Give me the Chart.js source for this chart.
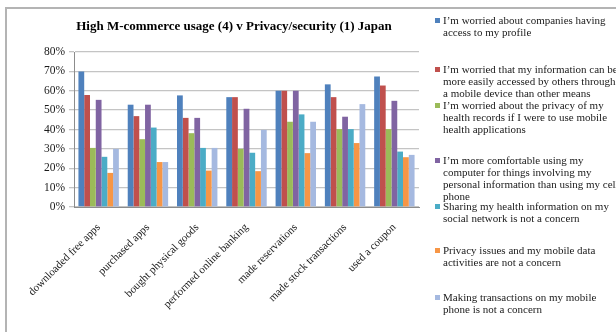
<!DOCTYPE html>
<html>
<head>
<meta charset="utf-8">
<script src="https://cdn.jsdelivr.net/npm/chart.js@4/dist/chart.umd.min.js"></script>
<style>
  html, body { margin: 0; padding: 0; background: #fff; }
  #wrap { position: relative; width: 616px; height: 332px; }
</style>
</head>
<body>
<div id="wrap"><canvas id="c" width="616" height="332"></canvas></div>
<script>
const chartTitle = "High M-commerce usage (4) v Privacy/security (1) Japan";
const categories = ["downloaded free apps", "purchased apps", "bought physical goods", "performed online banking", "made reservations", "made stock transactions", "used a coupon"];
const tickValues = [0, 10, 20, 30, 40, 50, 60, 70, 80];
const seriesNames = [
  "I’m worried about companies having\naccess to my profile",
  "I’m worried that my information can be\nmore easily accessed by others through\na mobile device than other means",
  "I’m worried about the privacy of my\nhealth records if I were to use mobile\nhealth applications",
  "I’m more comfortable using my\ncomputer for things involving my\npersonal information than using my cell\nphone",
  "Sharing my health information on my\nsocial network is not a concern",
  "Privacy issues and my mobile data\nactivities are not a concern",
  "Making transactions on my mobile\nphone is not a concern"
];
const worriedProfile   = [70.0, 52.8, 57.6, 56.7, 60.0, 63.3, 67.4];
const worriedAccess    = [57.8, 46.9, 46.0, 56.7, 60.0, 56.7, 62.7];
const worriedHealth    = [30.5, 35.0, 38.1, 30.0, 44.0, 40.2, 40.2];
const comfortComputer  = [55.3, 52.8, 46.0, 50.7, 60.0, 46.6, 54.8];
const sharingHealth    = [25.9, 41.0, 30.5, 28.0, 47.8, 40.2, 28.6];
const privacyNoConcern = [17.6, 23.2, 18.8, 18.5, 27.8, 33.0, 25.7];
const transactionsOk   = [30.0, 23.2, 30.5, 39.8, 44.0, 53.1, 26.9];

const seriesValues = [worriedProfile, worriedAccess, worriedHealth, comfortComputer, sharingHealth, privacyNoConcern, transactionsOk];
const colors = ["#4F81BD", "#C0504D", "#9BBB59", "#8064A2", "#4BACC6", "#F79646", "#A5B9E0"];

const SERIF = "'Liberation Serif', 'Times New Roman', serif";

const decorPlugin = {
  id: 'decor',
  beforeDraw(chart) {
    const ctx = chart.ctx;
    ctx.save();
    ctx.fillStyle = '#fff';
    ctx.fillRect(0, 0, chart.width, chart.height);
    ctx.strokeStyle = '#b4b4b4';
    ctx.lineWidth = 2;
    ctx.beginPath();
    ctx.moveTo(6, 340);
    ctx.lineTo(6, 8);
    ctx.lineTo(620, 8);
    ctx.stroke();
    ctx.restore();
  },
  afterDraw(chart) {
    const ctx = chart.ctx;
    ctx.save();
    ctx.fillStyle = '#000';
    ctx.font = "bold 13px " + SERIF;
    ctx.textAlign = 'center';
    ctx.textBaseline = 'middle';
    ctx.fillText(chartTitle, 234, 27);
    // legend
    const itemY = [21, 70, 106, 161, 207, 251, 298];
    const lh = 12;
    ctx.font = "11px " + SERIF;
    ctx.textAlign = 'left';
    chart.data.datasets.forEach((ds, i) => {
      const y0 = itemY[i];
      ctx.fillStyle = ds.backgroundColor;
      ctx.fillRect(435, y0 - 3, 5, 5);
      ctx.fillStyle = '#1a1a1a';
      ds.label.split('\n').forEach((line, j) => {
        ctx.fillText(line, 443, y0 + j * lh);
      });
    });
    ctx.restore();
  }
};

new Chart(document.getElementById('c'), {
  type: 'bar',
  data: {
    labels: categories,
    datasets: seriesValues.map((vals, i) => ({
      label: seriesNames[i],
      data: vals,
      backgroundColor: colors[i],
      borderWidth: 0,
      barPercentage: 1.0,
      categoryPercentage: 0.82
    }))
  },
  options: {
    responsive: false,
    animation: false,
    devicePixelRatio: 1,
    layout: { padding: { left: 0, right: 197, top: 52, bottom: 0 } },
    plugins: {
      legend: { display: false },
      title: { display: false },
      tooltip: { enabled: false }
    },
    scales: {
      x: {
        grid: { display: false, drawTicks: false },
        border: { display: true, color: '#8c8c8c', width: 1 },
        ticks: {
          autoSkip: false,
          maxRotation: 45,
          minRotation: 45,
          padding: 14,
          color: '#1a1a1a',
          font: { family: SERIF, size: 11 }
        },
        afterFit(scale) {
          scale.height = 332 - 207;
          scale.paddingLeft = 0;
          scale.paddingRight = 0;
        }
      },
      y: {
        min: 0,
        max: 80,
        afterBuildTicks(scale) {
          scale.ticks = tickValues.map(v => ({ value: v }));
        },
        grid: { color: '#c4c4c4', lineWidth: 1.3, drawTicks: true, tickLength: 5 },
        border: { display: true, color: '#8c8c8c', width: 1 },
        ticks: {
          padding: 4,
          color: '#1a1a1a',
          font: { family: SERIF, size: 11.5 },
          callback: v => v + '%'
        },
        afterFit(scale) {
          scale.width = 74;
          scale.paddingTop = 0;
          scale.paddingBottom = 0;
        }
      }
    }
  },
  plugins: [decorPlugin]
});
</script>
</body>
</html>
